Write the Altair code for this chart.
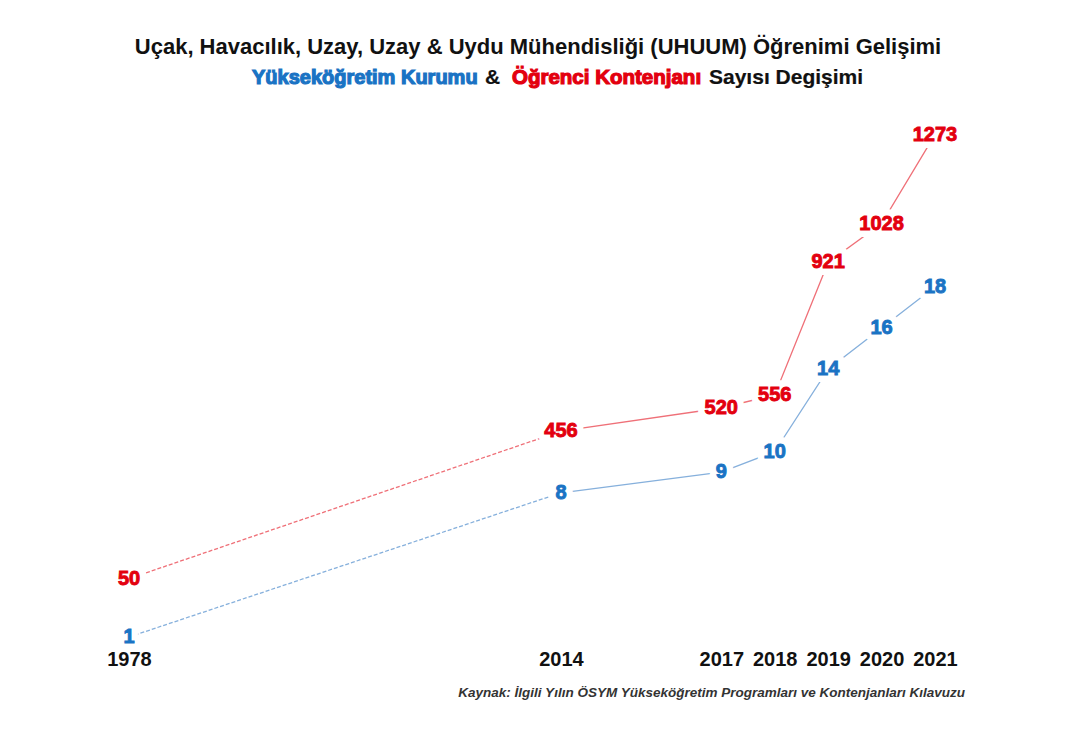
import altair as alt
import pandas as pd

years = [1978, 2014, 2017, 2018, 2019, 2020, 2021]
kurum = [1, 8, 9, 10, 14, 16, 18]
kontenjan = [50, 456, 520, 556, 921, 1028, 1273]

title_text = "Uçak, Havacılık, Uzay, Uzay & Uydu Mühendisliği (UHUUM) Öğrenimi Gelişimi"
sub_parts = ["Yükseköğretim Kurumu", "&", "Öğrenci Kontenjanı", "Sayısı Degişimi"]
sub_colors = ["#1a73c4", "#111111", "#e3000f", "#111111"]
source_text = "Kaynak: İlgili Yılın ÖSYM Yükseköğretim Programları ve Kontenjanları Kılavuzu"

BLUE = "#1a73c4"
RED = "#e3000f"
BLUE_LINE = "#86b0dc"
RED_LINE = "#ef7078"
FONT = "Liberation Sans"

df = pd.DataFrame({"year": years, "kurum": kurum, "kontenjan": kontenjan})
df_dash = df[df["year"] <= 2014]
df_solid = df[df["year"] >= 2014]

xscale = alt.Scale(domain=[1978, 2014, 2021], range=[121, 553, 927], nice=False, zero=False)
xaxis = alt.Axis(values=years, format="d", title=None, domain=False, ticks=False,
                 grid=False, labelFontSize=20, labelFont=FONT, labelFontWeight="bold",
                 labelColor="#111111", labelPadding=1, labelFlush=False, labelOverlap=False)
xenc = alt.X("year:Q", scale=xscale, axis=xaxis)

yb = alt.Scale(domain=[0.466, 31.53], nice=False, zero=False)
yr = alt.Scale(domain=[-141.0, 1621.6], nice=False, zero=False)

def series(field, yscale, line_color, text_color):
    y = alt.Y(f"{field}:Q", scale=yscale, axis=None)
    dash = alt.Chart(df_dash).mark_line(color=line_color, strokeWidth=1.3, strokeDash=[4, 2]).encode(x=xenc, y=y)
    solid = alt.Chart(df_solid).mark_line(color=line_color, strokeWidth=1.3).encode(x=xenc, y=y)
    halo = alt.Chart(df).mark_text(font=FONT, fontSize=20, fontWeight="bold", color="white",
                                   stroke="white", strokeWidth=14, strokeJoin="round").encode(
        x=xenc, y=y, text=alt.Text(f"{field}:Q", format="d"))
    lab = alt.Chart(df).mark_text(font=FONT, fontSize=20, fontWeight="bold", color=text_color,
                                  stroke=text_color, strokeWidth=0.9).encode(
        x=xenc, y=y, text=alt.Text(f"{field}:Q", format="d"))
    return [dash, solid, halo, lab]

layers = series("kurum", yb, BLUE_LINE, BLUE) + series("kontenjan", yr, RED_LINE, RED)

title = alt.Chart(pd.DataFrame({"t": [title_text]})).mark_text(
    font=FONT, fontSize=22, fontWeight="bold", color="#111111", align="center", baseline="middle"
).encode(text="t:N", x=alt.value(530), y=alt.value(39))
layers.append(title)

sub_x = [244, 477, 504, 701]
sub_sizes = [20, 21, 20.5, 21]
for part, col, px, fs in zip(sub_parts, sub_colors, sub_x, sub_sizes):
    heavy = col != "#111111"
    t = alt.Chart(pd.DataFrame({"t": [part]})).mark_text(
        font=FONT, fontSize=fs, fontWeight="bold", color=col, align="left", baseline="middle",
        stroke=col, strokeWidth=1.2 if heavy else 0.2
    ).encode(text="t:N", x=alt.value(px), y=alt.value(70))
    layers.append(t)

src = alt.Chart(pd.DataFrame({"t": [source_text]})).mark_text(
    font=FONT, fontSize=13.5, fontWeight="bold", fontStyle="italic", color="#333333",
    align="right", baseline="middle"
).encode(text="t:N", x=alt.value(957), y=alt.value(685))
layers.append(src)

chart = alt.layer(*layers).resolve_scale(y="independent").properties(
    width=1054, height=640, padding=0, background="white"
).configure_view(stroke=None)

chart.save("out.html", embed_options={"renderer": "svg", "actions": False})
